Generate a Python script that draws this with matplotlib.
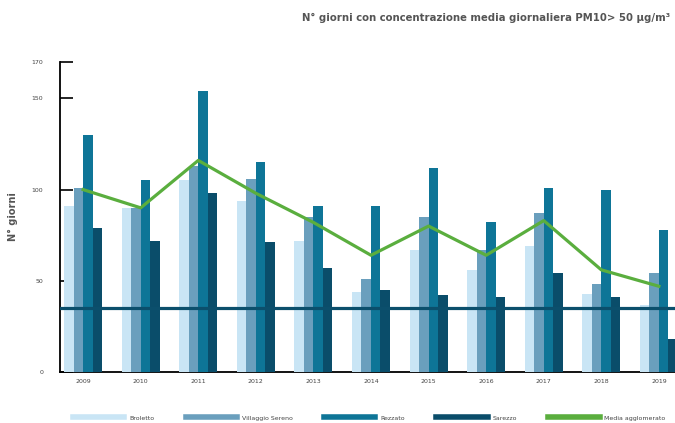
import matplotlib.pyplot as plt
import numpy as np
from matplotlib.lines import Line2D

# N° giorni con media giornaliera PM10 > 50 µg/m³, per stazione
anni = ['2009', '2010', '2011', '2012', '2013', '2014', '2015', '2016', '2017', '2018', '2019']
broletto = [91, 90, 105, 94, 72, 44, 67, 56, 69, 43, 37]
villaggio_sereno = [101, 90, 113, 106, 85, 51, 85, 67, 87, 48, 54]
rezzato = [130, 105, 154, 115, 91, 91, 112, 82, 101, 100, 78]
sarezzo = [79, 72, 98, 71, 57, 45, 42, 41, 54, 41, 18]
media_agglomerato = [100, 90, 116, 98, 82, 64, 80, 64, 83, 56, 47]
limite = 35

serie = ['Broletto', 'Villaggio Sereno', 'Rezzato', 'Sarezzo']
colori = ['#c9e5f5', '#6a9fbd', '#0e7597', '#0a4d6a']
verde = '#5aae3e'

fig = plt.figure(figsize=(6.75, 4.23), dpi=100)
ax = fig.add_axes([0.089, 0.1206, 0.911, 0.733])

x = np.arange(len(anni))
w = 0.165
valori = [broletto, villaggio_sereno, rezzato, sarezzo]
for i, (v, c) in enumerate(zip(valori, colori)):
    ax.bar(x + (i - 1.5) * w, v, width=w, color=c, zorder=3)

ax.axhline(limite, color='#0b4f6c', lw=2.3, zorder=4)
ax.plot(x, media_agglomerato, color=verde, lw=2.3, zorder=5)

ax.set_xlim(-0.4, 10.28)
ax.set_ylim(0, 170)
ax.set_yticks([0, 50, 100, 150, 170])
ax.set_xticks(x)
ax.set_xticklabels(anni)
ax.tick_params(axis='x', length=0, labelsize=4.5, labelcolor='#444444', pad=5)
ax.tick_params(axis='y', direction='in', length=9, width=1.2, labelsize=4.5,
               labelcolor='#444444', pad=12)
for s in ['top', 'right']:
    ax.spines[s].set_visible(False)
ax.spines['left'].set_linewidth(1.3)
ax.spines['bottom'].set_linewidth(1.3)
ax.spines['bottom'].set_zorder(2)

ax.set_ylabel('N° giorni', fontsize=7, fontweight='bold', color='#555555', labelpad=10)

fig.text(0.72, 0.958, 'N° giorni con concentrazione media giornaliera PM10> 50 µg/m³',
         ha='center', va='center', fontsize=7.3, fontweight='bold', color='#555555')

handles = [Line2D([0], [0], color=c, lw=4) for c in colori]
handles.append(Line2D([0], [0], color=verde, lw=4))
fig.legend(handles, serie + ['Media agglomerato'], loc='center left',
           bbox_to_anchor=(0.1, 0.012), ncol=5, frameon=False, fontsize=4.5,
           handlelength=8.2, columnspacing=5.0, handletextpad=0.8,
           labelcolor='#444444')

fig.savefig('out.png', dpi=100)
